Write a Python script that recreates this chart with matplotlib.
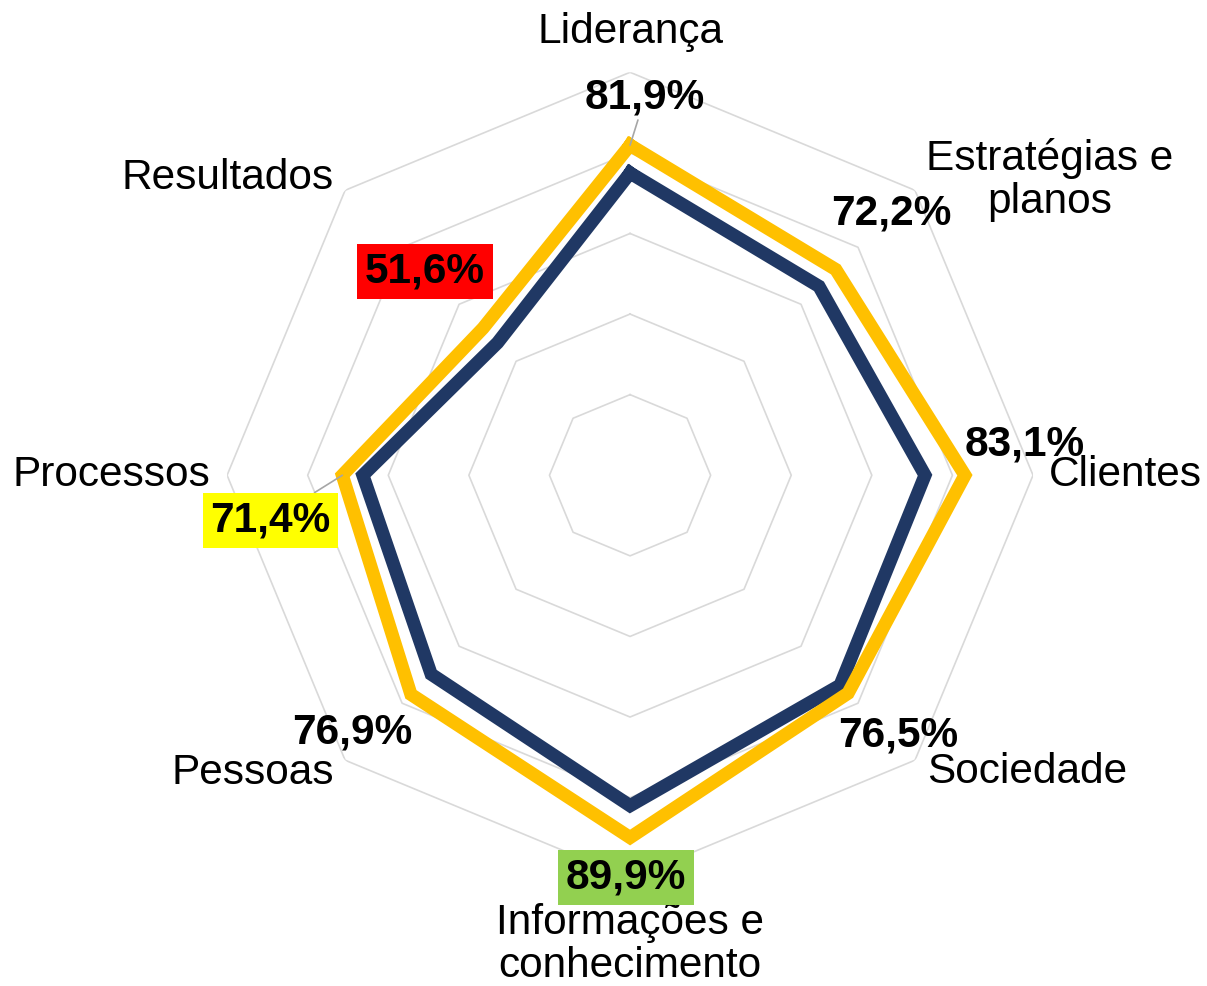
import numpy as np
import matplotlib.pyplot as plt

# dados
categorias = ["Liderança", "Estratégias e\nplanos", "Clientes", "Sociedade",
              "Informações e\nconhecimento", "Pessoas", "Processos", "Resultados"]
serie_amarela = [81.9, 72.2, 83.1, 76.5, 89.9, 76.9, 71.4, 51.6]
serie_azul = [75.0, 66.3, 73.2, 73.7, 82.0, 69.8, 66.3, 46.5]
rotulos = ["81,9%", "72,2%", "83,1%", "76,5%", "89,9%", "76,9%", "71,4%", "51,6%"]
aneis = [20, 40, 60, 80, 100]

plt.rcParams['font.family'] = ['Liberation Sans', 'DejaVu Sans']

n = len(categorias)
ang = np.deg2rad(np.arange(n) * 360.0 / n)
ang_f = np.append(ang, ang[0])

fig = plt.figure(figsize=(12.07, 9.86), dpi=100)
ax = fig.add_axes([0.522 - 0.3339, 0.518 - 0.4087, 0.6678, 0.8174], projection="polar")
ax.set_theta_zero_location("N")
ax.set_theta_direction(-1)
ax.set_ylim(0, 100)
ax.grid(False)
ax.set_xticks([])
ax.set_yticks([])
ax.spines["polar"].set_visible(False)
ax.patch.set_visible(False)

# grade octogonal
for a in aneis:
    ax.plot(ang_f, [a] * (n + 1), color="#D9D9D9", lw=1.2, zorder=1)

ax.plot(ang_f, serie_azul + serie_azul[:1], color="#203864", lw=9.5,
        solid_joinstyle="miter", zorder=3)
ax.plot(ang_f, serie_amarela + serie_amarela[:1], color="#FFC000", lw=9.5,
        solid_joinstyle="miter", zorder=4)

# rótulos das categorias (theta em graus, raio)
pos_cat = [(0, 110), (54.9, 127.4), (90, 123), (126.8, 123),
           (180, 116.4), (231.8, 119.3), (270, 128.8), (306.4, 124.2)]
for txt, (t, r) in zip(categorias, pos_cat):
    ax.text(np.deg2rad(t), r, txt, fontsize=30.5, ha="center", va="center",
            linespacing=1.08, zorder=6)

# rótulos dos valores
offs = [(15, 48), (56, 56), (60, 31), (50, -42), (-4, -40), (-59, -38), (-72, -45), (-58, 57)]
fundo = [None, None, None, None, "#92D050", None, "#FFFF00", "#FF0000"]
guia = [True, False, False, False, False, False, True, False]
for i in range(n):
    kw = {}
    if fundo[i]:
        kw["bbox"] = dict(boxstyle="square,pad=0.18", fc=fundo[i], ec="none")
    if guia[i]:
        kw["arrowprops"] = dict(arrowstyle="-", color="#A6A6A6", lw=1.2,
                                shrinkA=0, shrinkB=0)
    ax.annotate(rotulos[i], xy=(ang[i], serie_amarela[i]), xytext=offs[i],
                textcoords="offset pixels", fontsize=30.5, fontweight="bold",
                ha="center", va="center", zorder=7, **kw)

fig.savefig("out.png", dpi=100, facecolor="white")
